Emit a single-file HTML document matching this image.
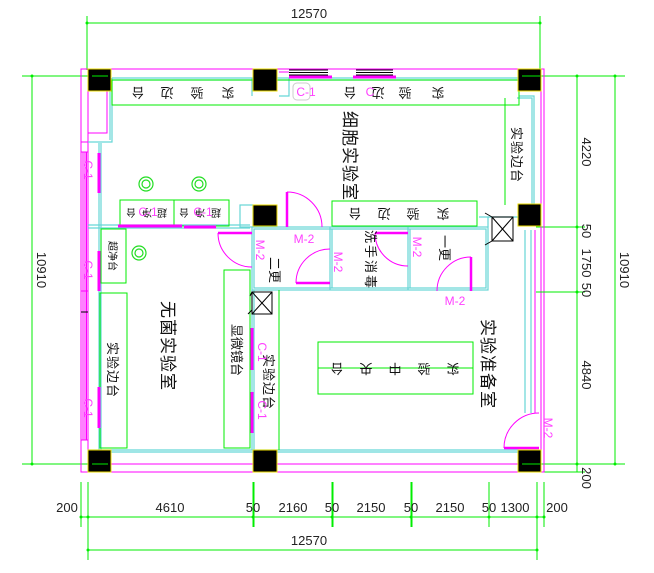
<!DOCTYPE html>
<html><head><meta charset="utf-8"><style>
html,body{margin:0;padding:0;background:#fff;}
svg{display:block;}
text{font-family:"Liberation Sans","Noto Sans CJK SC",sans-serif;}
.d{font-size:13px;fill:#222;}
.c{font-size:13px;fill:#111;font-family:"Noto Sans CJK SC",sans-serif;}
.cb{font-size:17px;fill:#111;font-family:"Noto Sans CJK SC",sans-serif;}
.p{font-size:12px;fill:#ff40ff;}
</style></head><body>
<svg width="654" height="573" viewBox="0 0 654 573" xmlns="http://www.w3.org/2000/svg">
<g fill="none" stroke-width="1">
<!-- dimension lines green -->
<g stroke="#00ee00">
<line x1="87" y1="23" x2="540" y2="23"/>
<line x1="87" y1="16" x2="87" y2="70"/><line x1="540" y1="16" x2="540" y2="70"/>
<line x1="32" y1="76" x2="32" y2="464"/>
<line x1="22" y1="76" x2="100" y2="76"/><line x1="22" y1="464" x2="100" y2="464"/>
<line x1="577" y1="76" x2="577" y2="472"/><line x1="615" y1="76" x2="615" y2="464"/>
<line x1="525" y1="76" x2="625" y2="76"/>
<line x1="536" y1="227" x2="585" y2="227"/><line x1="536" y1="292" x2="585" y2="292"/>
<line x1="525" y1="464" x2="625" y2="464"/><line x1="538" y1="472" x2="585" y2="472"/>
<line x1="81" y1="517" x2="544" y2="517"/>
<line x1="88" y1="550" x2="537" y2="550"/>
<line x1="81" y1="482" x2="81" y2="527"/><line x1="88" y1="482" x2="88" y2="560"/>
<line x1="253" y1="482" x2="253" y2="527"/><line x1="254" y1="482" x2="254" y2="527"/>
<line x1="332" y1="482" x2="332" y2="527"/><line x1="333" y1="482" x2="333" y2="527"/>
<line x1="411" y1="482" x2="411" y2="527"/><line x1="412" y1="482" x2="412" y2="527"/>
<line x1="489" y1="482" x2="489" y2="527"/>
<line x1="537" y1="482" x2="537" y2="560"/><line x1="544" y1="482" x2="544" y2="527"/>
<line x1="95" y1="76" x2="110" y2="76"/>
</g>
<g fill="#00ee00">
<circle cx="87" cy="23" r="1.5"/><circle cx="540" cy="23" r="1.5"/>
<circle cx="32" cy="76" r="1.5"/><circle cx="32" cy="464" r="1.5"/>
<circle cx="577" cy="76" r="1.5"/><circle cx="615" cy="76" r="1.5"/><circle cx="577" cy="227" r="1.5"/><circle cx="577" cy="292" r="1.5"/><circle cx="577" cy="464" r="1.5"/><circle cx="615" cy="464" r="1.5"/>
<circle cx="81" cy="517" r="1.5"/><circle cx="88" cy="517" r="1.5"/><circle cx="253" cy="517" r="1.5"/><circle cx="332" cy="517" r="1.5"/><circle cx="411" cy="517" r="1.5"/><circle cx="489" cy="517" r="1.5"/><circle cx="537" cy="517" r="1.5"/><circle cx="544" cy="517" r="1.5"/>
<circle cx="88" cy="550" r="1.5"/><circle cx="537" cy="550" r="1.5"/>
</g>
<!-- magenta outer walls -->
<g stroke="#ff00ff">
<rect x="81" y="69" width="463" height="403"/>
<line x1="88" y1="69" x2="88" y2="472"/>
<line x1="81" y1="76" x2="544" y2="76" stroke-opacity="0"/>
<line x1="83" y1="152" x2="83" y2="440"/><line x1="85" y1="152" x2="85" y2="440"/><line x1="86.5" y1="152" x2="86.5" y2="440"/>
<line x1="81" y1="152" x2="88" y2="152"/><line x1="81" y1="142" x2="88" y2="142"/><line x1="81" y1="440" x2="88" y2="440"/><line x1="81" y1="291" x2="88" y2="291"/>
<line x1="88" y1="464" x2="541" y2="464"/>
<line x1="541" y1="69" x2="541" y2="472"/><line x1="535" y1="230" x2="535" y2="413"/>
<polyline points="107,91 107,133 88,133"/>
<line x1="279" y1="72" x2="289" y2="72"/>
</g>
<line x1="81" y1="312" x2="88" y2="312" stroke="#000"/>
<!-- cyan inner walls -->
<g stroke="#66d6d6" stroke-width="1.2">
<line x1="112" y1="78" x2="519" y2="78"/><line x1="112" y1="80" x2="519" y2="80"/>
<polyline points="112,78 112,142 88,142"/>
<polyline points="110,80 110,140"/>
<line x1="99" y1="143" x2="99" y2="450"/><line x1="101" y1="143" x2="101" y2="450"/>
<line x1="88" y1="225" x2="250" y2="225"/><line x1="88" y1="228" x2="250" y2="228"/>
<line x1="88" y1="450" x2="519" y2="450"/><line x1="88" y1="452" x2="519" y2="452"/>
<polyline points="252,96 252,78"/><polyline points="279,96 289,96 289,78"/>
<rect x="252" y="227" width="236" height="63"/>
<rect x="254" y="229" width="232" height="59"/>
<line x1="330" y1="227" x2="330" y2="290"/><line x1="332" y1="229" x2="332" y2="288"/>
<line x1="408" y1="227" x2="408" y2="290"/><line x1="410" y1="229" x2="410" y2="288"/>
<line x1="252" y1="290" x2="252" y2="450"/><line x1="254" y1="290" x2="254" y2="450"/>
<line x1="525" y1="230" x2="525" y2="413"/><line x1="531" y1="230" x2="531" y2="413"/>
<polyline points="519,96 534,96 534,204"/><polyline points="517,98 532,98 532,204"/>
<polyline points="488,217 488,227"/><line x1="479" y1="217" x2="519" y2="217"/>
<rect x="240" y="205" width="13" height="22"/>
</g>
<!-- green benches -->
<g stroke="#00ee00">
<rect x="112" y="80" width="407" height="25"/>
<line x1="505" y1="98" x2="505" y2="205"/>
<rect x="120" y="200" width="54" height="26"/><rect x="174" y="200" width="55" height="26"/>
<rect x="101" y="229" width="25" height="54"/>
<rect x="100" y="293" width="27" height="155"/>
<rect x="224" y="270" width="26" height="178"/>
<line x1="279" y1="290" x2="279" y2="450"/>
<rect x="332" y="201" width="145" height="25"/>
<rect x="318" y="342" width="155" height="52"/><line x1="318" y1="368" x2="473" y2="368"/>
<line x1="538" y1="292" x2="560" y2="292"/>
<line x1="88" y1="464" x2="100" y2="464"/>
</g>
<g stroke="#22dd22" stroke-width="1.2">
<circle cx="146" cy="184" r="7"/><circle cx="146" cy="184" r="4"/>
<circle cx="199" cy="184" r="7"/><circle cx="199" cy="184" r="4"/>
<circle cx="139" cy="253" r="7"/><circle cx="139" cy="253" r="4"/>
</g>
<!-- windows magenta thick -->
<g stroke="#ff00ff" stroke-width="3">
<line x1="99" y1="153" x2="99" y2="193"/><line x1="99" y1="251" x2="99" y2="291"/><line x1="99" y1="387" x2="99" y2="428"/>
<line x1="252" y1="328" x2="252" y2="370"/><line x1="252" y1="392" x2="252" y2="433"/>
<line x1="289" y1="77" x2="332" y2="77"/><line x1="353" y1="77" x2="396" y2="77"/>
<line x1="118" y1="226" x2="182" y2="226"/><line x1="184" y1="227" x2="216" y2="227"/>
</g>
<g stroke="#000" stroke-width="1">
<line x1="289" y1="70" x2="328" y2="70"/><line x1="289" y1="72.5" x2="328" y2="72.5"/><line x1="289" y1="75" x2="328" y2="75"/>
<line x1="356" y1="70" x2="393" y2="70"/><line x1="356" y1="72.5" x2="393" y2="72.5"/><line x1="356" y1="75" x2="393" y2="75"/>
</g>
<rect x="293" y="83" width="17" height="17" rx="4" stroke="#ccc"/>
<!-- doors -->
<g stroke="#ff00ff" stroke-width="1">
<path d="M218,233 A34,34 0 0 0 252,267"/>
<path d="M287,192 A35,35 0 0 1 322,227"/>
<path d="M296,283 A34,34 0 0 1 330,249"/>
<path d="M375,233 A33,33 0 0 0 408,266"/>
<path d="M437,291 A34,34 0 0 1 471,257"/>
<path d="M504,448 A35,35 0 0 1 539,413"/>
</g>
<g stroke="#ff00ff" stroke-width="2.5">
<line x1="218" y1="233" x2="252" y2="233"/>
<line x1="287" y1="192" x2="287" y2="227"/>
<line x1="296" y1="283" x2="330" y2="283"/>
<line x1="375" y1="233" x2="408" y2="233"/>
<line x1="471" y1="257" x2="471" y2="291"/>
<line x1="504" y1="448" x2="539" y2="448"/>
</g>
<!-- exhaust boxes -->
<g stroke="#000">
<rect x="252" y="292" width="20" height="22"/><line x1="252" y1="292" x2="272" y2="314"/><line x1="272" y1="292" x2="252" y2="314"/>
<line x1="250" y1="296" x2="252" y2="292"/><line x1="248" y1="314" x2="252" y2="310"/>
<rect x="492" y="217" width="21" height="24"/><line x1="492" y1="217" x2="513" y2="241"/><line x1="513" y1="217" x2="492" y2="241"/>
<line x1="492" y1="241" x2="485" y2="245"/><line x1="492" y1="217" x2="485" y2="213"/>
</g>
</g>
<!-- columns -->
<g fill="#000" stroke="#eedd00" stroke-width="1">
<rect x="88" y="69" width="23" height="22"/><rect x="253" y="69" width="24" height="22"/><rect x="518" y="69" width="23" height="22"/>
<rect x="253" y="205" width="24" height="21"/><rect x="518" y="204" width="23" height="22"/>
<rect x="88" y="450" width="23" height="22"/><rect x="253" y="450" width="24" height="22"/><rect x="518" y="450" width="23" height="22"/>
</g>
<line x1="92" y1="76" x2="108" y2="76" stroke="#00ee00"/>
<line x1="92" y1="464" x2="108" y2="464" stroke="#00ee00"/>
<line x1="522" y1="76" x2="540" y2="76" stroke="#00ee00"/>
<line x1="522" y1="464" x2="540" y2="464" stroke="#00ee00"/>

<!-- dimension text -->
<text class="d" x="309" y="18" text-anchor="middle">12570</text>
<text class="d" x="309" y="545" text-anchor="middle">12570</text>
<g class="d" text-anchor="middle">
<text x="67" y="512">200</text><text x="170" y="512">4610</text><text x="253" y="512">50</text><text x="293" y="512">2160</text>
<text x="332" y="512">50</text><text x="371" y="512">2150</text><text x="411" y="512">50</text><text x="450" y="512">2150</text>
<text x="489" y="512">50</text><text x="515" y="512">1300</text><text x="557" y="512">200</text>
</g>
<g class="d" text-anchor="middle">
<text transform="translate(37,270) rotate(90)">10910</text>
<text transform="translate(620,270) rotate(90)">10910</text>
<text transform="translate(582,152) rotate(90)">4220</text>
<text transform="translate(582,231) rotate(90)">50</text>
<text transform="translate(582,263) rotate(90)">1750</text>
<text transform="translate(582,290) rotate(90)">50</text>
<text transform="translate(582,375) rotate(90)">4840</text>
<text transform="translate(582,478) rotate(90)">200</text>
</g>
<!-- upside-down bench labels -->
<g class="c" text-anchor="middle">
<text transform="translate(138,88) rotate(180)">台</text><text transform="translate(167,88) rotate(180)">边</text>
<text transform="translate(197,88) rotate(180)">验</text><text transform="translate(228,88) rotate(180)">实</text>
<text transform="translate(350,88) rotate(180)">台</text><text transform="translate(378,88) rotate(180)">边</text>
<text transform="translate(405,88) rotate(180)">验</text><text transform="translate(438,88) rotate(180)">实</text>
<text transform="translate(355,209) rotate(180)">台</text><text transform="translate(384,209) rotate(180)">边</text>
<text transform="translate(413,209) rotate(180)">验</text><text transform="translate(443,209) rotate(180)">实</text>
<text transform="translate(337,364) rotate(180)">台</text><text transform="translate(366,364) rotate(180)">央</text>
<text transform="translate(395,364) rotate(180)">中</text><text transform="translate(424,364) rotate(180)">验</text>
<text transform="translate(453,364) rotate(180)">实</text>
</g>
<g font-size="10" fill="#111" text-anchor="middle" font-family="Noto Sans CJK SC,sans-serif">
<text transform="translate(131,209) rotate(180)">台</text><text transform="translate(147,209) rotate(180)">净</text><text transform="translate(162,209) rotate(180)">超</text>
<text transform="translate(184,209) rotate(180)">台</text><text transform="translate(200,209) rotate(180)">净</text><text transform="translate(216,209) rotate(180)">超</text>
<text transform="translate(109,256) rotate(90)">超净台</text>
</g>
<!-- vertical (rotated 90) labels -->
<g class="c" text-anchor="middle">
<text transform="translate(512,155) rotate(90)" letter-spacing="1">实验边台</text>
<text transform="translate(108,370) rotate(90)" letter-spacing="1">实验边台</text>
<text transform="translate(264,382) rotate(90)" letter-spacing="1">实验边台</text>
<text transform="translate(232,350) rotate(90)">显微镜台</text>
<text transform="translate(366,260) rotate(90)" letter-spacing="2">洗手消毒</text>
<text transform="translate(440,248) rotate(90)">一更</text>
<text transform="translate(270,270) rotate(90)">二更</text>
</g>
<g class="cb" text-anchor="middle">
<text transform="translate(344,156) rotate(90)" letter-spacing="1">细胞实验室</text>
<text transform="translate(162,346) rotate(90)" letter-spacing="1">无菌实验室</text>
<text transform="translate(482,364) rotate(90)" letter-spacing="1">实验准备室</text>
</g>
<!-- pink labels -->
<g class="p" text-anchor="middle">
<text x="306" y="96">C-1</text><text x="370" y="96">C</text>
<text x="304" y="243">M-2</text><text x="455" y="305">M-2</text>
<text x="148" y="216">C-1</text><text x="203" y="216">C-1</text>
<text transform="translate(84,170) rotate(90)">C-1</text>
<text transform="translate(84,270) rotate(90)">C-1</text>
<text transform="translate(84,408) rotate(90)">C-1</text>
<text transform="translate(258,352) rotate(90)">C-1</text>
<text transform="translate(258,410) rotate(90)">C-1</text>
<text transform="translate(256,250) rotate(90)">M-2</text>
<text transform="translate(334,262) rotate(90)">M-2</text>
<text transform="translate(413,247) rotate(90)">M-2</text>
<text transform="translate(544,428) rotate(90)">M-2</text>
</g>
</svg>
</body></html>
